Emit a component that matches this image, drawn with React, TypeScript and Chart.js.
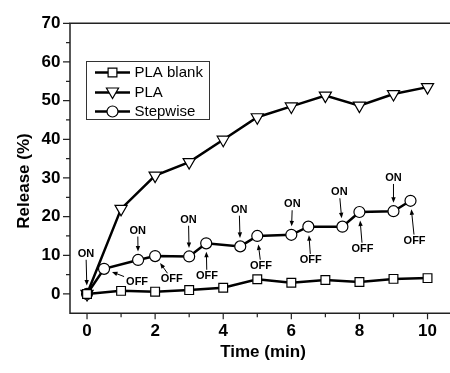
import React, { useEffect, useRef } from 'react';
import { Chart, registerables } from 'chart.js';

Chart.register(...registerables);

const FONT = '"Liberation Sans", Arial, sans-serif';

const timeBlank = [0, 1, 2, 3, 4, 5, 6, 7, 8, 9, 10];
const releaseBlank = [0, 0.8, 0.6, 1.0, 1.6, 3.8, 2.9, 3.6, 3.1, 3.9, 4.1];

const timePLA = [0, 1, 2, 3, 4, 5, 6, 7, 8, 9, 10];
const releasePLA = [0, 22.0, 30.6, 34.1, 39.9, 45.7, 48.5, 51.3, 48.7, 51.7, 53.5];

const timeStep = [0, 0.5, 1.5, 2, 3, 3.5, 4.5, 5, 6, 6.5, 7.5, 8, 9, 9.5];
const releaseStep = [0, 6.5, 8.8, 9.8, 9.7, 13.1, 12.3, 15.0, 15.3, 17.4, 17.4, 21.2, 21.4, 24.1];

const seriesNames = ['PLA blank', 'PLA', 'Stepwise'];

// ON / OFF annotations: index of the Stepwise point they point at, and label position (data units)
const onIndex = [0, 2, 4, 6, 8, 10, 12];
const onLabelX = [-0.03, 1.49, 2.98, 4.47, 6.03, 7.41, 9.0];
const onLabelY = [10.4, 16.4, 19.2, 21.8, 23.2, 26.3, 30.0];
const offIndex = [1, 3, 5, 7, 9, 11, 13];
const offLabelX = [1.47, 2.49, 3.52, 5.11, 6.57, 8.09, 9.62];
const offLabelY = [3.2, 3.8, 4.7, 7.3, 8.8, 11.7, 13.8];

const xTicks = [0, 2, 4, 6, 8, 10];
const xMinorTicks = [1, 3, 5, 7, 9];
const yTicks = [0, 10, 20, 30, 40, 50, 60, 70];
const yMinorTicks = [5, 15, 25, 35, 45, 55, 65];

const xTitle = 'Time (min)';
const yTitle = 'Release (%)';

function drawMarker(ctx: CanvasRenderingContext2D, style: string, x: number, y: number) {
  ctx.save();
  ctx.fillStyle = '#fff';
  ctx.strokeStyle = '#000';
  ctx.lineWidth = 1.2;
  ctx.beginPath();
  if (style === 'rect') {
    ctx.rect(x - 4.4, y - 4.4, 8.8, 8.8);
  } else if (style === 'triangle') {
    const r = 7;
    ctx.moveTo(x, y + r);
    ctx.lineTo(x - r * 0.866, y - r / 2);
    ctx.lineTo(x + r * 0.866, y - r / 2);
    ctx.closePath();
  } else {
    ctx.arc(x, y, 5.5, 0, Math.PI * 2);
  }
  ctx.fill();
  ctx.stroke();
  ctx.restore();
}

const decorPlugin = {
  id: 'decor',
  afterDatasetsDraw(chart: any) {
    const ctx: CanvasRenderingContext2D = chart.ctx;
    const xs = chart.scales.x;
    const ys = chart.scales.y;
    ctx.save();
    ctx.font = `bold 11px ${FONT}`;
    ctx.fillStyle = '#000';
    ctx.strokeStyle = '#000';
    ctx.textAlign = 'center';
    ctx.textBaseline = 'middle';
    const drawAnn = (text: string, lx: number, ly: number, idx: number) => {
      const px = xs.getPixelForValue(lx);
      const py = ys.getPixelForValue(ly);
      ctx.fillText(text, px, py);
      const tx = xs.getPixelForValue(timeStep[idx]);
      const ty = ys.getPixelForValue(releaseStep[idx]);
      let dx = tx - px;
      let dy = ty - py;
      const len = Math.hypot(dx, dy);
      dx /= len;
      dy /= len;
      const hw = ctx.measureText(text).width / 2 + 2;
      const hh = 6;
      const t0 = Math.min(
        Math.abs(dx) > 1e-6 ? hw / Math.abs(dx) : Infinity,
        Math.abs(dy) > 1e-6 ? hh / Math.abs(dy) : Infinity
      );
      const sx = px + dx * t0;
      const sy = py + dy * t0;
      const ex = tx - dx * 8.5;
      const ey = ty - dy * 8.5;
      ctx.lineWidth = 1;
      ctx.beginPath();
      ctx.moveTo(sx, sy);
      ctx.lineTo(ex - dx * 4, ey - dy * 4);
      ctx.stroke();
      const nx = -dy;
      const ny = dx;
      ctx.beginPath();
      ctx.moveTo(ex, ey);
      ctx.lineTo(ex - dx * 5.5 + nx * 2.2, ey - dy * 5.5 + ny * 2.2);
      ctx.lineTo(ex - dx * 5.5 - nx * 2.2, ey - dy * 5.5 - ny * 2.2);
      ctx.closePath();
      ctx.fill();
    };
    onIndex.forEach((idx, i) => drawAnn('ON', onLabelX[i], onLabelY[i], idx));
    offIndex.forEach((idx, i) => drawAnn('OFF', offLabelX[i], offLabelY[i], idx));
    ctx.restore();
  },
  afterDraw(chart: any) {
    const ctx: CanvasRenderingContext2D = chart.ctx;
    const xs = chart.scales.x;
    const ys = chart.scales.y;
    const a = chart.chartArea;
    ctx.save();
    ctx.strokeStyle = '#222';
    ctx.lineWidth = 1.5;
    ctx.beginPath();
    ctx.moveTo(a.right, a.top);
    ctx.lineTo(a.left, a.top);
    ctx.lineTo(a.left, a.bottom);
    ctx.lineTo(a.right, a.bottom);
    ctx.stroke();
    ctx.lineWidth = 1.2;
    ctx.beginPath();
    yTicks.forEach((v) => {
      const y = ys.getPixelForValue(v);
      ctx.moveTo(a.left - 7, y);
      ctx.lineTo(a.left, y);
    });
    yMinorTicks.forEach((v) => {
      const y = ys.getPixelForValue(v);
      ctx.moveTo(a.left - 4, y);
      ctx.lineTo(a.left, y);
    });
    xTicks.forEach((v) => {
      const x = xs.getPixelForValue(v);
      ctx.moveTo(x, a.bottom);
      ctx.lineTo(x, a.bottom + 6);
    });
    xMinorTicks.forEach((v) => {
      const x = xs.getPixelForValue(v);
      ctx.moveTo(x, a.bottom);
      ctx.lineTo(x, a.bottom + 4);
    });
    ctx.stroke();

    // axis titles
    ctx.fillStyle = '#000';
    ctx.font = `bold 17px ${FONT}`;
    ctx.textAlign = 'center';
    ctx.textBaseline = 'middle';
    ctx.fillText(xTitle, 263, 352);
    ctx.save();
    ctx.translate(24, 181);
    ctx.rotate(-Math.PI / 2);
    ctx.fillText(yTitle, 0, 0);
    ctx.restore();

    // legend
    const lx = 86.5;
    const ly = 61.5;
    ctx.strokeStyle = '#333';
    ctx.lineWidth = 1;
    ctx.strokeRect(lx, ly, 123, 58);
    const rows = [72.5, 92.5, 111.5];
    const styles = ['rect', 'triangle', 'circle'];
    ctx.font = `15px ${FONT}`;
    ctx.textAlign = 'left';
    rows.forEach((ry, i) => {
      ctx.strokeStyle = '#000';
      ctx.lineWidth = 2.5;
      ctx.beginPath();
      ctx.moveTo(95, ry);
      ctx.lineTo(130, ry);
      ctx.stroke();
      drawMarker(ctx, styles[i], 112.5, i === 1 ? ry - 1 : ry);
      ctx.fillStyle = '#000';
      ctx.fillText(seriesNames[i], 134.5, ry + 0.5);
    });
    ctx.restore();
  },
};

export default function App() {
  const ref = useRef<HTMLCanvasElement>(null);
  useEffect(() => {
    if (!ref.current) return;
    const mk = (xs: number[], ys: number[]) => xs.map((x, i) => ({ x, y: ys[i] }));
    const common = {
      borderColor: '#000',
      borderWidth: 2.5,
      pointBackgroundColor: '#fff',
      pointBorderColor: '#000',
      pointBorderWidth: 1.2,
      fill: false,
      tension: 0,
    };
    const chart = new Chart(ref.current, {
      type: 'line',
      data: {
        datasets: [
          { ...common, label: seriesNames[0], data: mk(timeBlank, releaseBlank), pointStyle: 'rect', pointRadius: 6.2 },
          { ...common, label: seriesNames[1], data: mk(timePLA, releasePLA), pointStyle: 'triangle', pointRotation: 180, pointRadius: 7 },
          { ...common, label: seriesNames[2], data: mk(timeStep, releaseStep), pointStyle: 'circle', pointRadius: 5.5 },
        ],
      },
      options: {
        responsive: false,
        animation: false,
        layout: { padding: { top: 23.3, left: 0, right: 0, bottom: 0 }, autoPadding: false },
        plugins: { legend: { display: false }, tooltip: { enabled: false }, title: { display: false } },
        scales: {
          x: {
            type: 'linear',
            min: -0.5,
            max: 10.66,
            grid: { display: false, drawTicks: false },
            border: { display: false },
            afterFit: (s: any) => { s.height = 59.7; },
            afterBuildTicks: (s: any) => { s.ticks = xTicks.map((v) => ({ value: v })); },
            ticks: { color: '#000', font: { family: FONT, size: 17, weight: 'bold' }, padding: 8, maxRotation: 0 },
          },
          y: {
            type: 'linear',
            min: -5,
            max: 70,
            grid: { display: false, drawTicks: false },
            border: { display: false },
            afterFit: (s: any) => { s.width = 70; },
            afterBuildTicks: (s: any) => { s.ticks = yTicks.map((v) => ({ value: v })); },
            ticks: { color: '#000', font: { family: FONT, size: 17, weight: 'bold' }, padding: 9.5 },
          },
        },
      } as any,
      plugins: [decorPlugin],
    });
    return () => chart.destroy();
  }, []);
  return (
    <div style={{ position: 'absolute', left: 0, top: 0, width: 450, height: 373, background: '#fff' }}>
      <canvas ref={ref} width={450} height={373} />
    </div>
  );
}
